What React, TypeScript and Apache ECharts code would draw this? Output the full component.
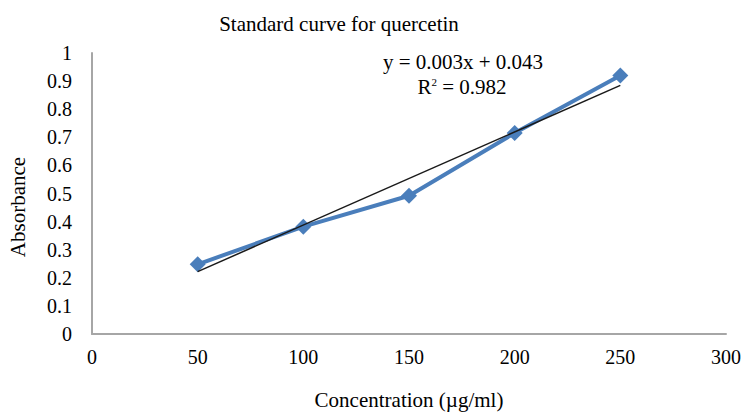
import React, { useEffect, useRef } from "react";
import * as echarts from "echarts";

const concentrations = [50, 100, 150, 200, 250];
const absorbance = [0.248, 0.382, 0.492, 0.715, 0.92];
const trendX = [50, 250];
const trendY = [0.222, 0.885];
const titleText = "Standard curve for quercetin";
const equationText = "y = 0.003x + 0.043";
const rSquaredText = "R{sup|2} = 0.982";
const xName = "Concentration (µg/ml)";
const yName = "Absorbance";

const FONT = "'Liberation Serif', 'Times New Roman', serif";

export default function App() {
  const ref = useRef<HTMLDivElement>(null);
  useEffect(() => {
    if (!ref.current) return;
    const chart = echarts.init(ref.current, null, { renderer: "svg" });
    chart.setOption({
      animation: false,
      backgroundColor: "#ffffff",
      textStyle: { fontFamily: FONT, color: "#000" },
      grid: { left: 92, right: 20, top: 53, bottom: 74 },
      title: {
        text: titleText,
        left: 334,
        top: 8,
        textAlign: "center",
        textStyle: { fontFamily: FONT, fontSize: 21, fontWeight: "normal", color: "#000" },
      },
      graphic: [
        {
          type: "text",
          x: 463,
          y: 62,
          style: {
            text: equationText,
            font: `21px ${FONT}`,
            fill: "#000",
            textAlign: "center",
            textVerticalAlign: "middle",
          },
        },
        {
          type: "text",
          x: 462,
          y: 87,
          style: {
            text: rSquaredText,
            font: `21px ${FONT}`,
            fill: "#000",
            textAlign: "center",
            textVerticalAlign: "middle",
            rich: {
              sup: { fontSize: 11, verticalAlign: "top", padding: [0, 0, 9, 0], fontFamily: FONT },
            },
          },
        },
        {
          type: "text",
          x: 18,
          y: 207,
          rotation: Math.PI / 2,
          style: {
            text: yName,
            font: `21px ${FONT}`,
            fill: "#000",
            textAlign: "center",
            textVerticalAlign: "middle",
          },
        },
      ],
      xAxis: {
        type: "value",
        min: 0,
        max: 300,
        interval: 50,
        name: xName,
        nameLocation: "middle",
        nameGap: 55,
        nameTextStyle: { fontFamily: FONT, fontSize: 21, color: "#000" },
        axisLine: { show: true, lineStyle: { color: "#a6a6a6", width: 2 } },
        axisTick: { show: false },
        splitLine: { show: false },
        axisLabel: { fontFamily: FONT, fontSize: 20, color: "#000", margin: 13 },
      },
      yAxis: {
        type: "value",
        min: 0,
        max: 1,
        interval: 0.1,
        axisLine: { show: true, lineStyle: { color: "#a6a6a6", width: 2 } },
        axisTick: { show: false },
        splitLine: { show: false },
        axisLabel: {
          fontFamily: FONT,
          fontSize: 20,
          color: "#000",
          margin: 20,
          formatter: (v: number) => String(Math.round(v * 10) / 10),
        },
      },
      series: [
        {
          type: "line",
          data: concentrations.map((x, i) => [x, absorbance[i]]),
          symbol: "diamond",
          symbolSize: 16,
          lineStyle: { color: "#4a7ebb", width: 4 },
          itemStyle: { color: "#4a7ebb" },
          z: 2,
        },
        {
          type: "line",
          data: trendX.map((x, i) => [x, trendY[i]]),
          symbol: "none",
          lineStyle: { color: "#1a1a1a", width: 1.5 },
          z: 3,
        },
      ],
    });
    return () => chart.dispose();
  }, []);
  return <div ref={ref} style={{ width: 746, height: 415, position: "absolute", left: 0, top: 0 }} />;
}
